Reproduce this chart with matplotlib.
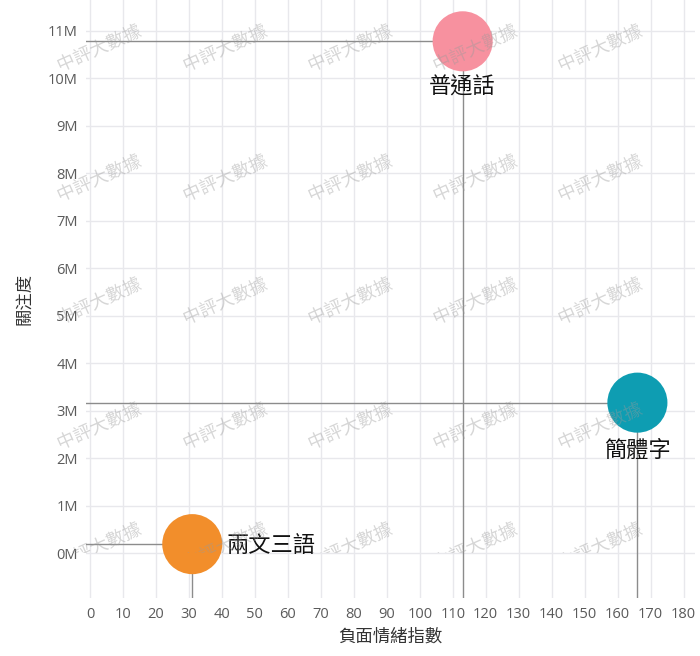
import matplotlib.pyplot as plt
from matplotlib.transforms import Bbox, TransformedBbox, Affine2D, IdentityTransform
from matplotlib.ticker import FuncFormatter
from matplotlib.textpath import TextPath
from matplotlib.font_manager import FontProperties
from matplotlib.patches import PathPatch

# data
names = ["普通話", "簡體字", "兩文三語"]
neg_index = [113, 166, 31]
attention = [10.78e6, 3.17e6, 0.19e6]
colors = ["#F7919F", "#0E9DB2", "#F28E2B"]

x_ticks = list(range(0, 190, 10))
y_ticks = [i * 1e6 for i in range(0, 12)]

plt.rcParams["font.family"] = ["Noto Sans CJK TC", "DejaVu Sans"]

fig = plt.figure(figsize=(7, 6.56), dpi=100)
ax = fig.add_axes([0.123, 0.088, 0.870, 0.912])

xmin, xmax = -1.2, 183.5
ymin, ymax = -0.95e6, 11.65e6
ax.set_xlim(xmin, xmax)
ax.set_ylim(ymin, ymax)

ax.set_xticks(x_ticks)
ax.set_yticks(y_ticks)
ax.yaxis.set_major_formatter(FuncFormatter(lambda v, p: f"{int(round(v / 1e6))}M"))
ax.grid(True, color="#e8e8ec", lw=1)
ax.set_axisbelow(True)
for s in ax.spines.values():
    s.set_visible(False)
ax.tick_params(length=0, labelsize=10.5, labelcolor="#5a5a5a", pad=6)
for lab in ax.get_xticklabels() + ax.get_yticklabels():
    lab.set_family(["Open Sans", "DejaVu Sans"])

ax.set_xlabel("負面情緒指數", fontsize=12.5, color="#333333", labelpad=4)
ax.set_ylabel("關注度", fontsize=12.5, color="#333333", labelpad=10)

# reference lines from axes to each point
for x, y in zip(neg_index, attention):
    ax.plot([xmin, x], [y, y], color="#8c8c8c", lw=1, zorder=2)
    ax.plot([x, x], [ymin, y], color="#8c8c8c", lw=1, zorder=2)

ax.scatter(neg_index, attention, s=1870, c=colors, zorder=3, linewidths=0)

# labels
ax.annotate(names[0], (neg_index[0], attention[0]), xytext=(0, -33), textcoords="offset points",
            ha="center", va="center", fontsize=16, color="#111111", zorder=5)
ax.annotate(names[1], (neg_index[1], attention[1]), xytext=(0, -34), textcoords="offset points",
            ha="center", va="center", fontsize=16, color="#111111", zorder=5)
ax.annotate(names[2], (neg_index[2], attention[2]), xytext=(25, -1), textcoords="offset points",
            ha="left", va="center", fontsize=16, color="#111111", zorder=5)

# watermark grid (bottom row is cut off at the 0M line in the reference)
wm_x = [99, 225, 350, 475, 600]
wm_y = [47, 177, 300, 425, 545]
clip_box = TransformedBbox(Bbox([[0, 1 - 553 / 656], [1, 1]]), fig.transFigure)
tp = TextPath((0, 0), "中評大數據", size=18, prop=FontProperties(family="Noto Sans CJK TC"))
ext = tp.get_extents()
cx, cy = (ext.x0 + ext.x1) / 2, (ext.y0 + ext.y1) / 2
for py in wm_y:
    for px in wm_x:
        tr = Affine2D().translate(-cx, -cy).rotate_deg(24).translate(px, 656 - py)
        patch = PathPatch(tr.transform_path(tp), transform=IdentityTransform(),
                          facecolor="#9a9a9a", edgecolor="none", alpha=0.4, zorder=10)
        patch.set_clip_box(clip_box)
        fig.add_artist(patch)

fig.savefig("out.png", dpi=100)
